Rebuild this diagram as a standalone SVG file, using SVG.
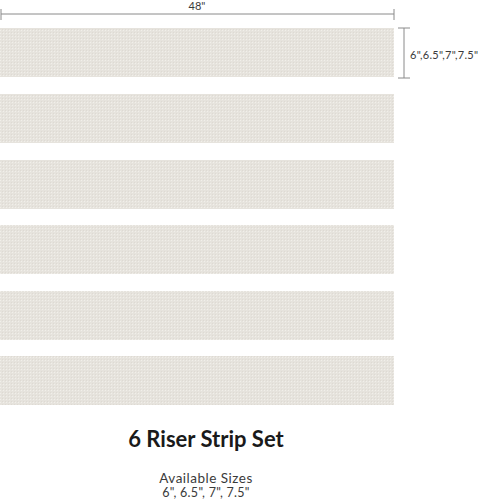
<svg xmlns="http://www.w3.org/2000/svg" width="478" height="500" viewBox="0 0 478 500">
<style>
.strip{fill:url(#weave)}
.dim{stroke:#8a8a8a;stroke-width:1;fill:none}
.lbl{font-family:Lato,"Liberation Sans",sans-serif;fill:#3a3a3a}
</style>
<defs>
<pattern id="weave" width="3" height="3" patternUnits="userSpaceOnUse">
<rect width="3" height="3" fill="#e6e3dd"/>
<rect width="1" height="1" fill="#f1efea"/>
<rect x="2" y="2" width="1" height="1" fill="#dedad3"/>
</pattern>
</defs>
<rect width="478" height="500" fill="#ffffff"/>
<g id="dimensions">
<path class="dim" d="M1 14H394M1 9V20M394 9V20"/>
<text class="lbl" x="197" y="10" font-size="11" text-anchor="middle">48"</text>
<path class="dim" d="M404 28V78M398 28H410M398 78H410"/>
<text class="lbl" x="410" y="59" font-size="11" letter-spacing="0.3">6",6.5",7",7.5"</text>
</g>
<g id="strip1"><rect class="strip" x="0" y="28" width="394" height="49"/></g>
<g id="strip2"><rect class="strip" x="0" y="94" width="394" height="49"/></g>
<g id="strip3"><rect class="strip" x="0" y="160" width="394" height="49"/></g>
<g id="strip4"><rect class="strip" x="0" y="225" width="394" height="49"/></g>
<g id="strip5"><rect class="strip" x="0" y="291" width="394" height="49"/></g>
<g id="strip6"><rect class="strip" x="0" y="356" width="394" height="49"/></g>
<g id="caption">
<text x="206" y="447" font-family="Lato,'Liberation Sans',sans-serif" font-weight="bold" font-size="22" fill="#1a1a1a" text-anchor="middle">6 Riser Strip Set</text>
<text class="lbl" x="206" y="483" font-size="13.5" letter-spacing="0.5" text-anchor="middle">Available Sizes</text>
<text class="lbl" x="206" y="497" font-size="12.5" letter-spacing="0.3" text-anchor="middle">6", 6.5", 7", 7.5"</text>
</g>
</svg>
